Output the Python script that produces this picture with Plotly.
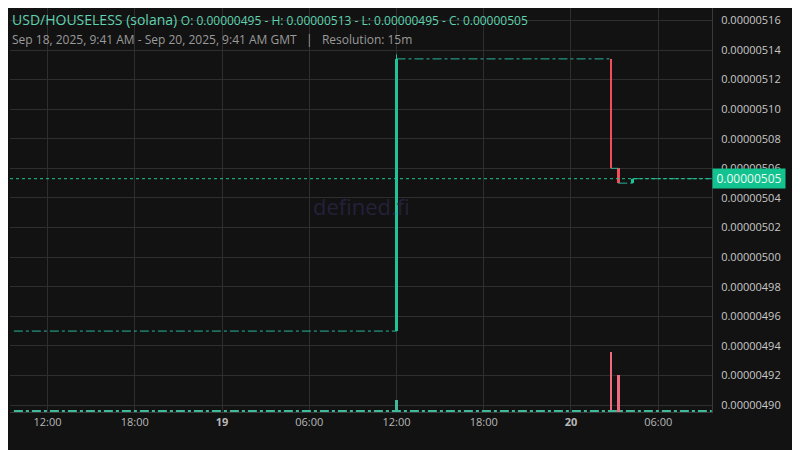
"""USD/HOUSELESS 15m candles, defined.fi style dark chart."""

import plotly.graph_objects as go

# ── Data ──────────────────────────────────────────────────────────────
# candles that actually moved (15m resolution)
candle_time = ["2025-09-19 12:00", "2025-09-20 02:45", "2025-09-20 03:15", "2025-09-20 04:15"]
candle_open = [0.00000495, 0.000005134, 0.00000506, 0.000005050]
candle_close = [0.000005134, 0.00000506, 0.000005050, 0.000005053]
candle_high = [0.000005137, 0.000005134, 0.00000506, 0.000005053]
candle_low = [0.00000495, 0.00000506, 0.000005050, 0.000005050]

# flat (doji) stretches between the moves, one segment per stretch (None = gap)
flat_time = ["2025-09-18 09:41", "2025-09-19 12:00", None,
             "2025-09-19 12:00", "2025-09-20 02:45", None,
             "2025-09-20 02:45", "2025-09-20 03:15", None,
             "2025-09-20 03:15", "2025-09-20 04:15", None,
             "2025-09-20 04:15", "2025-09-20 09:41"]
flat_price = [0.00000495, 0.00000495, None,
              0.000005134, 0.000005134, None,
              0.00000506, 0.00000506, None,
              0.000005050, 0.000005050, None,
              0.000005053, 0.000005053]

# volume
vol_time = candle_time
vol_value = [120, 600, 370, 15]
vol_base_time = ["2025-09-18 09:41", "2025-09-20 09:41"]
vol_base_value = [10, 10]

last_close = candle_close[-1]

x_tick_vals = ["2025-09-18 12:00", "2025-09-18 18:00", "2025-09-19 00:00", "2025-09-19 06:00",
               "2025-09-19 12:00", "2025-09-19 18:00", "2025-09-20 00:00", "2025-09-20 06:00"]
x_tick_text = ["12:00", "18:00", "<b>19</b>", "06:00", "12:00", "18:00", "<b>20</b>", "06:00"]

UP = "#22c197"
DOWN = "#f0505a"
UP_VOL = "#3fb99a"
DOWN_VOL = "#ee6a7c"
BG = "#121212"
GRID = "#2e2e2e"

# the page body has an 8px margin, so the figure is a bit smaller than the window
FIG_W, FIG_H = 792, 442
PLOT_H = FIG_H - 38

fig = go.Figure()

# volume (overlaid, own scale)
vol_colors = [UP_VOL if c >= o else DOWN_VOL for o, c in zip(candle_open, candle_close)]
fig.add_trace(go.Scatter(
    x=vol_base_time, y=vol_base_value, yaxis="y2", mode="lines",
    line=dict(color=UP_VOL, width=2, dash="dashdot"), hoverinfo="skip",
))
fig.add_trace(go.Bar(
    x=vol_time, y=vol_value, yaxis="y2", marker_color=vol_colors,
    marker_line_width=0, width=12 * 60 * 1000, hoverinfo="skip",
))

# flat stretches
fig.add_trace(go.Scatter(
    x=flat_time, y=flat_price, mode="lines", connectgaps=False,
    line=dict(color="#26b59a", width=1, dash="dashdot"), hoverinfo="skip",
))

# wicks
for t, h, l, o, c in zip(candle_time, candle_high, candle_low, candle_open, candle_close):
    fig.add_trace(go.Scatter(
        x=[t, t], y=[l, h], mode="lines",
        line=dict(color=UP if c >= o else DOWN, width=1), hoverinfo="skip",
    ))

# candle bodies
body_colors = [UP if c >= o else DOWN for o, c in zip(candle_open, candle_close)]
fig.add_trace(go.Bar(
    x=candle_time,
    base=candle_open,
    y=[c - o for o, c in zip(candle_open, candle_close)],
    marker_color=body_colors, marker_line_width=0,
    width=12 * 60 * 1000,
))

# last price line
fig.add_shape(
    type="line", xref="paper", x0=0, x1=1, yref="y", y0=last_close, y1=last_close,
    line=dict(color="#1ec891", width=1, dash="dot"),
)
fig.add_annotation(
    xref="paper", x=1, xanchor="left", yref="y", y=last_close, yanchor="middle",
    text=f"{last_close:.8f}", showarrow=False, bgcolor="#12c28f",
    width=66, height=13, borderpad=3, align="center",
    font=dict(family="Open Sans", size=12, color="#eafaf4"),
)

# watermark
fig.add_annotation(
    xref="paper", yref="paper", x=0.5, y=1 - (206 - 8) / PLOT_H, text="defined.fi",
    showarrow=False, font=dict(family="Open Sans", size=22, color="#24213a"),
)

# header
fig.add_annotation(
    xref="paper", yref="paper", x=0, xanchor="left", y=1 - (19 - 8) / PLOT_H, yanchor="middle",
    text=("USD/HOUSELESS (solana) <span style='font-size:12px'>O: 0.00000495 - H: 0.00000513"
          " - L: 0.00000495 - C: 0.00000505</span>"),
    showarrow=False, font=dict(family="Open Sans", size=14, color="#5fd3b0"),
)
fig.add_annotation(
    xref="paper", yref="paper", x=0, xanchor="left", y=1 - (40 - 8) / PLOT_H, yanchor="middle",
    text="Sep 18, 2025, 9:41 AM - Sep 20, 2025, 9:41 AM GMT   |   Resolution: 15m",
    showarrow=False, font=dict(family="Open Sans", size=12, color="#9a9a9a"),
)

fig.update_layout(
    width=FIG_W, height=FIG_H,
    margin=dict(l=2, r=88, t=0, b=38),
    paper_bgcolor=BG, plot_bgcolor=BG,
    showlegend=False, barmode="overlay", bargap=0,
    font=dict(family="Open Sans", size=11, color="#c8c8c8"),
    xaxis=dict(
        type="date", range=["2025-09-18 09:25", "2025-09-20 09:42"],
        tickvals=x_tick_vals, ticktext=x_tick_text,
        showgrid=True, gridcolor=GRID, gridwidth=1,
        showline=True, linecolor="#3a3a3a", zeroline=False,
        tickfont=dict(size=11, color="#b8b8b8"), ticks="",
    ),
    yaxis=dict(
        side="right", range=[0.0000048953, 0.00000516839],
        dtick=0.00000002, tick0=0.0000049, tickformat=".8f",
        showgrid=True, gridcolor=GRID, gridwidth=1,
        showline=True, linecolor="#3a3a3a", zeroline=False,
        tickfont=dict(size=11, color="#c8c8c8"), ticks="", ticklabelstandoff=6,
    ),
    yaxis2=dict(
        overlaying="y", range=[0, 4040], visible=False,
    ),
)

fig.write_html("out.html")
